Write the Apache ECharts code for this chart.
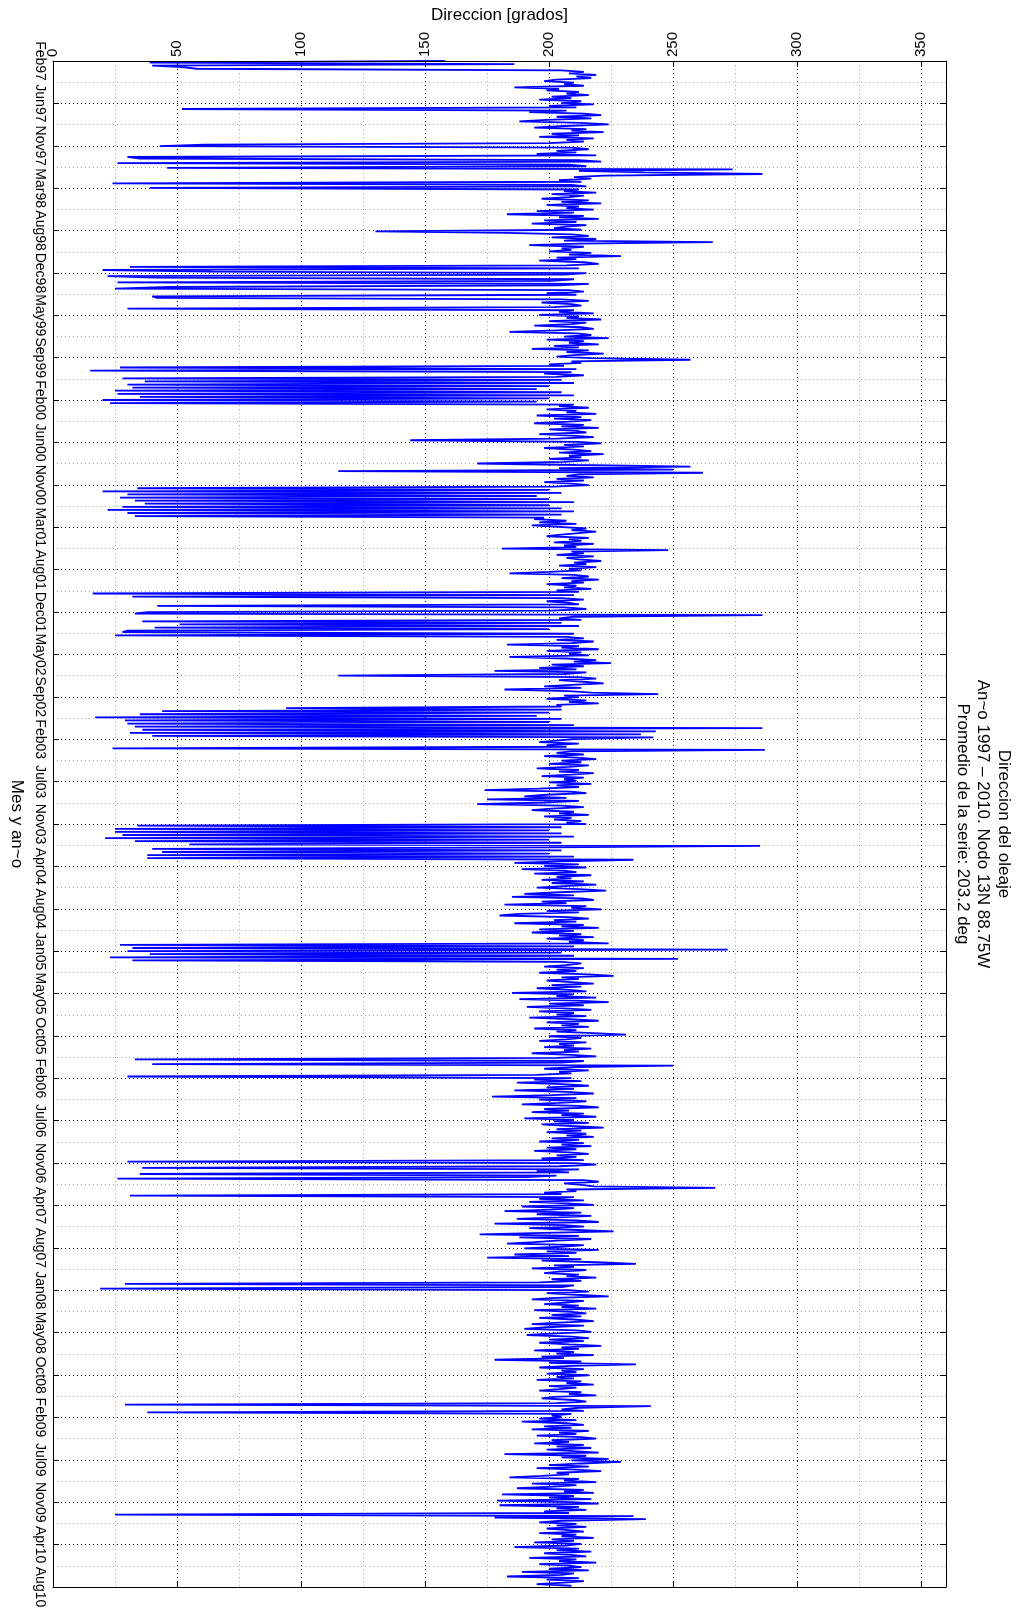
<!DOCTYPE html>
<html>
<head>
<meta charset="utf-8">
<title>Direccion del oleaje</title>
<script src="https://cdn.jsdelivr.net/npm/echarts@6/dist/echarts.min.js"></script>
<style>
  html, body { margin: 0; padding: 0; background: #fff; }
  #chart { width: 1023px; height: 1613px; }
</style>
</head>
<body>
<div id="chart"></div>
<script>
// Wave direction (degrees) at node 13N 88.75W, one sample about every 5 days.
// Each block holds one year of samples starting in early February.
const direction1997 = [158,39,186,40,52,58,205,214,208,219,211,217,203,198,210,206,214,186,204,199,212,207,216,201,209,196,213,205,218,200,211,52,207,192,214,221,203,217,199,188,213,224,206,194,215,209,222,201,212,196,218,207,214,200,61,43,209,216,203,211,195,219,30,35,212,221,26,208,215,46,274,212,238];
const direction1998 = [286,222,210,217,204,213,24,209,215,39,212,206,219,201,214,208,197,216,205,221,199,212,207,218,195,210,183,214,204,220,198,211,193,215,207,202,213,130,183,209,216,201,219,206,266,212,192,214,205,209,200,217,208,229,203,211,196,214,220,207,31,212,20,64,215,206,22,41,210,201,26,216,204];
const direction1999 = [47,25,208,214,199,211,40,42,205,216,197,209,213,202,30,210,204,218,196,212,207,221,200,215,209,194,213,218,203,184,211,217,206,224,199,214,208,220,202,212,193,216,207,222,210,203,217,257,209,213,200,206,27,211,15,209,198,214,203,28,205,37,210,30,200,32,195,25,205,26,210,35,200];
const direction2000 = [20,195,23,210,204,216,199,211,207,219,195,213,202,217,208,194,214,205,220,200,211,215,196,209,218,203,144,212,221,206,214,198,210,217,204,222,208,213,200,216,206,171,211,257,204,250,115,262,212,207,218,203,214,198,209,216,202,34,200,20,205,30,195,27,200,33,210,37,200,28,205,22,210];
const direction2001 = [30,205,33,198,194,207,196,211,193,204,215,209,219,212,205,199,216,208,213,202,218,206,211,181,248,209,214,203,218,207,212,221,210,215,204,219,208,213,200,184,210,216,205,220,209,214,199,211,206,217,203,212,16,210,32,205,214,199,208,212,42,206,215,201,38,33,286,210,204,213,36,205,51];
const direction2002 = [212,41,200,30,28,210,25,207,214,203,218,209,183,212,205,220,199,213,208,216,184,207,219,210,225,201,214,196,211,178,215,206,115,212,219,204,214,222,209,198,213,182,208,217,244,206,212,199,215,208,220,203,205,94,205,44,200,35,195,17,205,29,200,30,210,33,286,36,243,31,237,40,242];
const direction2003 = [210,203,196,212,199,207,24,287,209,203,214,198,211,219,205,213,200,216,208,195,212,204,218,209,197,214,206,211,200,217,203,212,196,174,209,215,199,190,207,175,212,198,171,205,214,201,193,210,204,216,198,209,202,213,207,215,34,205,25,200,25,205,28,210,21,200,33,205,55,285,200,40,205];
const direction2004 = [44,200,38,210,38,234,205,186,212,198,215,189,206,211,194,217,203,209,197,214,201,219,206,195,212,223,204,190,210,185,213,218,197,207,182,215,209,221,199,212,188,180,208,216,202,211,186,214,205,220,196,210,193,213,204,218,199,214,208,224,27,210,32,272,30,205,39,210,23,252,32,205,213];
const direction2005 = [207,198,214,203,211,196,216,226,205,212,199,209,218,201,213,195,208,215,185,210,203,219,188,211,224,200,214,191,206,217,196,210,203,215,192,208,220,199,212,205,216,194,211,203,218,231,200,213,207,196,215,204,210,198,217,206,212,193,209,219,203,33,214,205,40,250,211,198,216,204,209,195,30];
const direction2006 = [209,194,213,187,205,216,199,210,186,207,218,201,177,211,196,215,204,189,212,220,198,208,193,214,205,219,190,210,202,216,197,209,222,203,213,199,215,207,218,201,212,196,214,205,217,199,211,194,208,216,203,211,197,214,30,210,219,204,36,212,195,208,35,203,191,26,214,220,206,213,218,267,207];
const direction2007 = [211,198,205,31,210,196,214,192,207,218,189,210,201,182,213,195,217,204,187,211,220,178,206,214,192,209,226,198,172,212,188,217,203,194,183,214,205,190,220,199,211,186,208,175,213,197,219,235,202,210,193,215,204,198,212,207,219,201,213,196,29,210,205,19,208,216,199,211,224,203,193,214,207];
const direction2008 = [198,212,205,219,194,209,215,201,213,196,210,218,204,193,214,199,190,211,217,203,191,209,216,200,214,196,208,221,205,212,194,210,203,218,197,206,178,213,200,235,209,196,214,205,211,199,216,203,210,195,213,207,218,200,211,204,196,213,208,219,202,197,210,215,203,29,241,212,205,214,38,209,201];
const direction2009 = [205,196,211,189,207,214,198,209,193,216,204,211,195,213,219,201,208,194,214,203,217,199,210,220,182,215,205,224,209,229,213,200,216,195,211,221,203,208,197,184,212,206,219,193,211,202,187,214,206,218,181,210,200,217,179,209,220,180,212,203,215,198,208,25,234,178,239,205,196,211,203,215,199];
const direction2010 = [208,214,196,211,205,218,201,210,194,213,207,186,212,203,217,198,209,215,192,211,204,219,196,208,213,200,216,189,210,205,183,212,199,214,206,195,209];

// Month/year tick labels along the time axis
const timeTickLabels = ['Feb97','Jun97','Nov97','Mar98','Aug98','Dec98','May99','Sep99','Feb00','Jun00','Nov00','Mar01','Aug01','Dec01','May02','Sep02','Feb03','Jul03','Nov03','Apr04','Aug04','Jan05','May05','Oct05','Feb06','Jul06','Nov06','Apr07','Aug07','Jan08','May08','Oct08','Feb09','Jul09','Nov09','Apr10','Aug10'];

const DAY_MS = 86400000;
const AXIS_START = Date.UTC(1997, 1, 5);   // top of the time axis
const SERIES_END = Date.UTC(2010, 7, 22);  // last sample
const TICK_DAYS = 137.5;
const AXIS_DAYS = TICK_DAYS * (timeTickLabels.length - 1);

const samples = [].concat(direction1997, direction1998, direction1999, direction2000,
  direction2001, direction2002, direction2003, direction2004, direction2005,
  direction2006, direction2007, direction2008, direction2009, direction2010);
const stepDays = (SERIES_END - AXIS_START) / DAY_MS / (samples.length - 1);
const points = samples.map((d, i) => [d, i * stepDays]);

const FONT = '"Liberation Sans", Arial, Helvetica, sans-serif';
const frameLine = { show: true, onZero: false, lineStyle: { color: '#000', width: 1 } };
const innerTick = { show: true, inside: true, length: 6, lineStyle: { color: '#000', width: 1 } };
const dotted = [1, 3];
const hidden = { show: false };

const chart = echarts.init(document.getElementById('chart'), null, { renderer: 'canvas' });
chart.setOption({
  animation: false,
  backgroundColor: '#fff',
  grid: { left: 47, top: 61, right: 77, bottom: 26, containLabel: false },
  xAxis: [
    { // labelled direction axis on the top edge
      type: 'value', position: 'top', min: 0, max: 360, interval: 50, z: 5,
      axisLine: frameLine, axisTick: innerTick,
      axisLabel: { rotate: -90, align: 'left', verticalAlign: 'middle', margin: 4,
        fontSize: 15, color: '#000', fontFamily: FONT, showMaxLabel: false },
      splitLine: hidden,
      name: 'Direccion [grados]', nameLocation: 'middle', nameGap: 36,
      nameTextStyle: { fontSize: 17, color: '#000', fontFamily: FONT }
    },
    { // mirrored ticks on the bottom edge
      type: 'value', position: 'bottom', min: 0, max: 360, interval: 50, z: 5,
      axisLine: frameLine, axisTick: innerTick, axisLabel: hidden, splitLine: hidden
    },
    { // dotted grid every 25 degrees, darker on labelled values
      type: 'value', position: 'top', min: 0, max: 360, interval: 25,
      axisLine: hidden, axisTick: hidden, axisLabel: hidden,
      splitLine: { show: true, lineStyle: { color: ['#000', '#a8a8a8'], type: dotted, width: 1 } }
    }
  ],
  yAxis: [
    { // time axis on the left edge, days from the first tick
      type: 'value', inverse: true, position: 'left', min: 0, max: AXIS_DAYS, interval: TICK_DAYS, z: 5,
      axisLine: frameLine, axisTick: innerTick,
      axisLabel: { rotate: -90, align: 'center', verticalAlign: 'top', margin: 6,
        fontSize: 14, color: '#000', fontFamily: FONT,
        formatter: v => timeTickLabels[Math.round(v / TICK_DAYS)] || '' },
      splitLine: hidden,
      name: 'Mes y an~o', nameLocation: 'middle', nameGap: 28, nameRotate: -90,
      nameTextStyle: { fontSize: 17, color: '#000', fontFamily: FONT }
    },
    { // mirrored ticks on the right edge
      type: 'value', inverse: true, position: 'right', min: 0, max: AXIS_DAYS, interval: TICK_DAYS, z: 5,
      axisLine: frameLine, axisTick: innerTick, axisLabel: hidden, splitLine: hidden
    },
    { // dotted grid at every tick and half tick
      type: 'value', inverse: true, position: 'left', min: 0, max: AXIS_DAYS, interval: TICK_DAYS / 2,
      axisLine: hidden, axisTick: hidden, axisLabel: hidden,
      splitLine: { show: true, lineStyle: { color: ['#000', '#a8a8a8'], type: dotted, width: 1 } }
    }
  ],
  series: [{
    name: 'Direccion',
    type: 'line',
    xAxisIndex: 0,
    yAxisIndex: 0,
    data: points,
    showSymbol: false,
    symbol: 'none',
    silent: true,
    clip: true,
    lineStyle: { color: '#0000ff', width: 1.8 },
    z: 3
  }],
  graphic: [{
    type: 'text',
    x: 983,
    y: 824,
    rotation: -Math.PI / 2,
    style: {
      text: 'Direccion del oleaje\nAn~o 1997 \u2013 2010. Nodo 13N 88.75W\nPromedio de la serie: 203.2 deg',
      font: '17px "Liberation Sans", Arial, sans-serif',
      fill: '#000',
      align: 'center',
      verticalAlign: 'middle',
      lineHeight: 20.5
    }
  }]
});
</script>
</body>
</html>
